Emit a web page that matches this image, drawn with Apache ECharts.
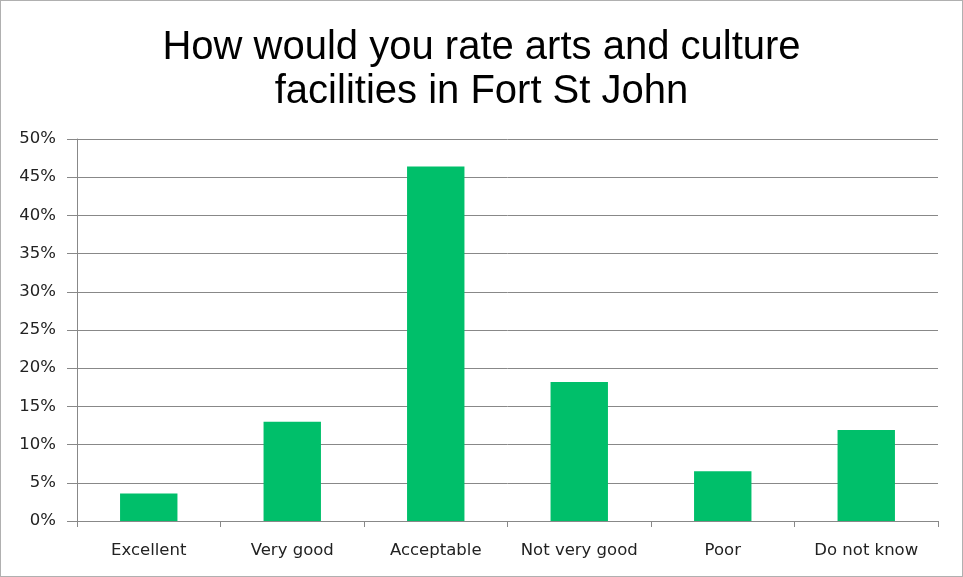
<!DOCTYPE html>
<html>
<head>
<meta charset="utf-8">
<script src="https://cdn.jsdelivr.net/npm/echarts@6/dist/echarts.min.js"></script>
<style>
    html, body { margin: 0; padding: 0; background: #fff; }
    #chart { width: 961px; height: 575px; border: 1px solid #b0b0b0; }
</style>
</head>
<body>
<div id="chart"></div>
<script>
    // data (percent)
    var categories = ['Excellent', 'Very good', 'Acceptable', 'Not very good', 'Poor', 'Do not know'];
    var percents = [3.6, 13.0, 46.4, 18.2, 6.5, 11.9];
    var titleText = 'How would you rate arts and culture\nfacilities in Fort St John';

    var myChart = echarts.init(document.getElementById('chart'));

    var option = {
        backgroundColor: '#fff',
        animation: false,
        title: {
            text: titleText,
            left: 'center',
            top: 20,
            textStyle: {
                fontFamily: 'Liberation Sans',
                fontSize: 40,
                fontWeight: 'normal',
                color: '#000',
                lineHeight: 44
            }
        },
        grid: {
            left: 76,
            right: 24,
            top: 138,
            bottom: 55
        },
        xAxis: {
            type: 'category',
            data: categories,
            axisLine: {lineStyle: {color: '#888', width: 1}},
            axisTick: {show: true, interval: 0, length: 6, lineStyle: {color: '#888'}},
            axisLabel: {
                interval: 0,
                margin: 21,
                fontFamily: 'DejaVu Sans',
                fontSize: 16.5,
                color: '#222'
            }
        },
        yAxis: {
            type: 'value',
            min: 0,
            max: 50,
            interval: 5,
            axisLine: {show: true, lineStyle: {color: '#888', width: 1}},
            axisTick: {show: true, length: 10, lineStyle: {color: '#888'}},
            splitLine: {lineStyle: {color: '#888', width: 1}},
            axisLabel: {
                formatter: '{value}%',
                margin: 21,
                fontFamily: 'DejaVu Sans',
                fontSize: 16.5,
                color: '#222'
            }
        },
        series: [
            {
                type: 'bar',
                data: percents,
                barWidth: '40%',
                itemStyle: {color: '#00BF6A'}
            }
        ]
    };

    myChart.setOption(option);
</script>
</body>
</html>
